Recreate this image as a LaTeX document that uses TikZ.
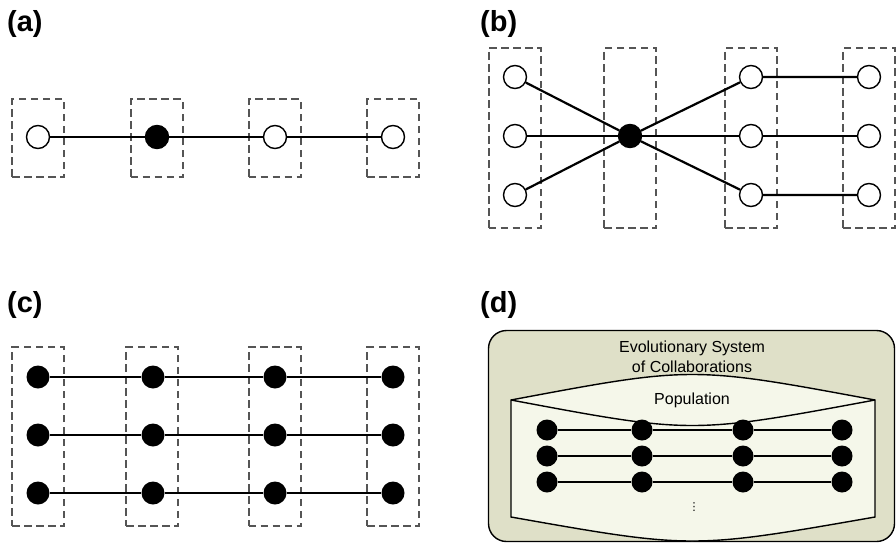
\documentclass[tikz,border=0pt]{standalone}
\usepackage{fontspec}
\setmainfont{Liberation Sans}
\newfontfamily\symfont{DejaVu Sans}
\usepackage{tikz}
\usepackage{xcolor}
\usetikzlibrary{positioning,calc}

\definecolor{shellfill}{HTML}{DFE0C8}
\definecolor{poolfill}{HTML}{F5F7EA}
\definecolor{slotgray}{HTML}{555555}

\begin{document}
\begin{tikzpicture}[x=1pt, y=-1pt,
          slot/.style={draw=slotgray, dash pattern=on 7.5pt off 4.5pt, line width=2pt, minimum width=52pt, inner sep=0pt},
          agent/.style={circle, draw, line width=1.4pt, fill=white, minimum size=23pt, inner sep=0pt},
          lead/.style={agent, fill=black},
          dot/.style={circle, fill=black, minimum size=23pt, inner sep=0pt},
          link/.style={line width=2.2pt},
          tag/.style={anchor=base west, inner sep=0pt, font=\fontsize{29}{34}\selectfont\bfseries},
          caption/.style={align=center, inner sep=0pt, font=\fontsize{16}{20}\selectfont}
      ]
        \useasboundingbox (0,0) rectangle (896,543);

        % (a) one chain, one leader
        \node[tag] (taga) at (7,32) {(a)};
        \foreach \i/\x in {1/38,2/156.5,3/274.5,4/393}
          \node[slot, minimum height=78pt] (sa\i) at (\x,138) {};
        \node[agent] (a1) at (38,137) {};
        \node[lead] (a2) at (157,137) {};
        \node[agent] (a3) at (275,137) {};
        \node[agent] (a4) at (393,137) {};
        \draw[link] (a1) -- (a2) -- (a3) -- (a4);

        % (b) leader shared by three chains
        \node[tag] (tagb) at (480,32) {(b)};
        \foreach \i/\x in {1/514.5,2/630,3/751,4/869}
          \node[slot, minimum height=180pt] (sb\i) at (\x,138) {};
        \node[lead] (bc) at (630,136) {};
        \foreach \r/\y in {1/77,2/136,3/195} {
          \node[agent] (bl\r) at (515,\y) {};
          \node[agent] (bm\r) at (751,\y) {};
          \node[agent] (br\r) at (869,\y) {};
          \draw[link] (bl\r) -- (bc) -- (bm\r) -- (br\r);
        }

        % (c) three full chains
        \node[tag] (tagc) at (7,312) {(c)};
        \foreach \i/\x in {1/38,2/152,3/274.5,4/393}
          \node[slot, minimum height=179pt] (sc\i) at (\x,436.5) {};
        \foreach \r/\y in {1/377,2/435,3/493} {
          \foreach \i/\x in {1/38,2/153,3/275,4/393}
            \node[dot] (c\r\i) at (\x,\y) {};
          \draw[link] (c\r1) -- (c\r2) -- (c\r3) -- (c\r4);
        }

        % (d) population of collaborations
        \node[tag] (tagd) at (480,312) {(d)};
        \node[draw, line width=1.4pt, rounded corners=18pt, fill=shellfill,
              minimum width=406pt, minimum height=211pt] (shell) at (691.5,436) {};
        \node[caption] (title) at (692,357) {Evolutionary System\\of Collaborations};
        \draw[line width=1.4pt, fill=poolfill]
          (511,400) .. controls (692,366) .. (875,400) -- (875,517)
          .. controls (692,549) .. (511,517) -- cycle;
        \draw[line width=1.4pt] (511,400) .. controls (692,434) .. (875,400);
        \node[caption] (pop) at (692,400) {Population};
        \foreach \r/\y in {1/430,2/456,3/482} {
          \foreach \i/\x in {1/547,2/642,3/743,4/842}
            \node[dot, minimum size=21pt] (d\r\i) at (\x,\y) {};
          \draw[line width=2.6pt] (d\r1) -- (d\r2) -- (d\r3) -- (d\r4);
        }
        \node[inner sep=0pt, font=\symfont\fontsize{11}{11}\selectfont] (more) at (694,507) {⋮};
      \end{tikzpicture}
\end{document}
